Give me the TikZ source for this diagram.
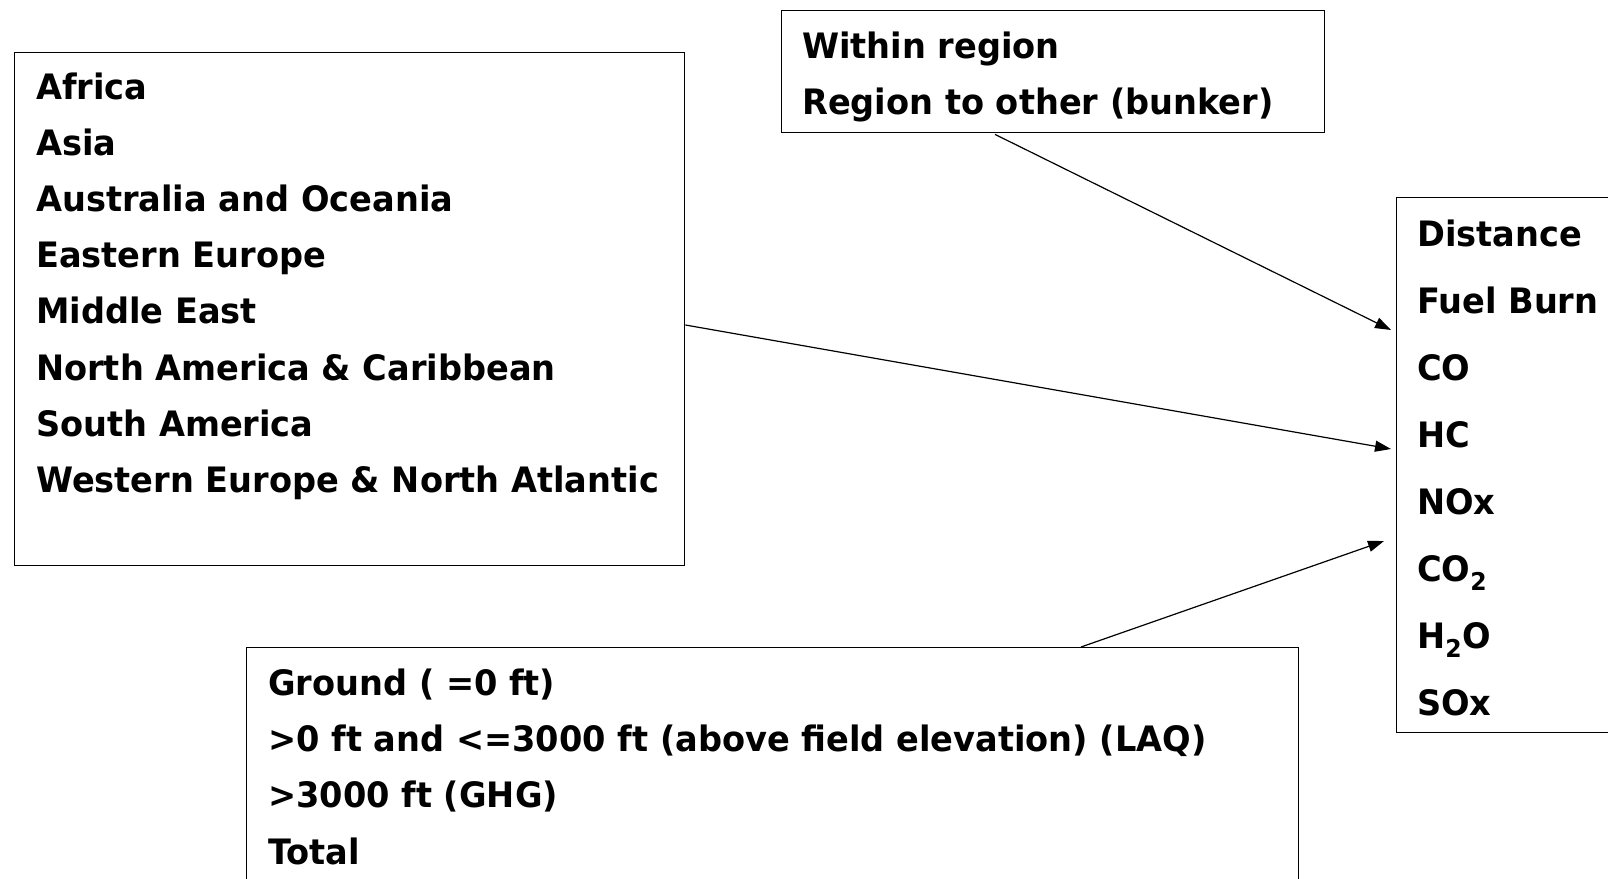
\documentclass[tikz,border=0pt]{standalone}
\usepackage{fontspec}
\setmainfont{DejaVu Sans}[FakeStretch=0.96]
\usetikzlibrary{arrows.meta,calc}
\begin{document}
\begin{tikzpicture}[x=1pt,y=-1pt,
  box/.style={draw=black, line width=1.4pt, rectangle, inner sep=0pt, anchor=north west},
  txt/.style={anchor=base west, inner sep=0pt, font=\fontsize{35}{35}\selectfont\bfseries},
  arr/.style={line width=1.2pt, -{Triangle[length=16pt,width=11pt]}}]
\useasboundingbox (0,0) rectangle (1608,878);
% boxes
\node[box, minimum width=670pt, minimum height=513pt] (regions) at (14,52) {};
\node[box, minimum width=543pt, minimum height=122pt] (within) at (781,10) {};
\node[box, minimum width=230pt, minimum height=535pt] (metrics) at (1396,197) {};
\node[box, minimum width=1052pt, minimum height=260pt] (altitude) at (246,647) {};
% texts
\foreach \t [count=\i from 0] in {Africa,Asia,Australia and Oceania,Eastern Europe,Middle East,North America \& Caribbean,South America,Western Europe \& North Atlantic}
  \node[txt] (r\i) at (36,99.5+56.1*\i) {\t};
\node[txt] (w0) at (802,58.5) {Within region};
\node[txt] (w1) at (802,114) {Region to other (bunker)};
\foreach \t [count=\i from 0] in {Distance,Fuel Burn,CO,HC,NOx,CO\textsubscript{2},H\textsubscript{2}O,SOx}
  \node[txt] (m\i) at (1417,246+67*\i) {\t};
\foreach \t [count=\i from 0] in {Ground ( =0 ft),{>0 ft and <=3000 ft (above field elevation) (LAQ)},>3000 ft (GHG),Total}
  \node[txt] (a\i) at (268,695+56.4*\i) {\t};
% arrows
\draw[arr] ($(within.south west)+(214,1)$) -- ($(metrics.north west)+(-5,133)$);
\draw[arr] ($(regions.north east)+(0,273)$) -- ($(metrics.north west)+(-5,252)$);
\draw[arr] ($(altitude.north west)+(835,0)$) -- ($(metrics.north west)+(-12,344)$);
\end{tikzpicture}
\end{document}
